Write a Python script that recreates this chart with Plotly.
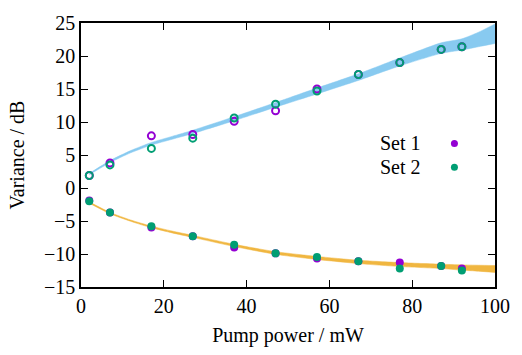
import plotly.graph_objects as go

# Measured points
pump = [2, 7, 17, 27, 37, 47, 57, 67, 77, 87, 92]
set1_anti = [1.9, 3.8, 7.9, 8.1, 10.1, 11.7, 15.0, 17.2, 19.0, 21.0, 21.4]
set2_anti = [1.9, 3.5, 6.0, 7.55, 10.6, 12.7, 14.7, 17.2, 19.0, 21.0, 21.4]
set1_sq = [-1.9, -3.7, -6.0, -7.3, -9.0, -9.9, -10.7, -11.1, -11.3, -11.8, -12.2]
set2_sq = [-2.0, -3.7, -5.8, -7.3, -8.6, -9.9, -10.45, -11.1, -12.2, -11.8, -12.5]

# Theory bands (lower / upper edges)
pump_th = [2, 7, 12, 17, 22, 27, 37, 47, 57, 67, 77, 87, 92, 96, 100]
anti_lo = [2.0, 3.85, 5.33, 6.5, 7.38, 8.25, 10.2, 12.25, 14.25, 16.3, 18.5, 20.4, 20.9, 21.4, 21.9]
anti_hi = [2.2, 4.15, 5.67, 6.9, 7.82, 8.75, 10.8, 12.95, 15.15, 17.3, 19.7, 22.0, 22.6, 23.6, 24.85]
sq_hi = [-2.1, -3.7, -4.85, -5.78, -6.52, -7.18, -8.53, -9.65, -10.37, -10.95, -11.3, -11.55, -11.65, -11.7, -11.75]
sq_lo = [-2.3, -3.9, -5.05, -6.02, -6.8, -7.48, -8.87, -10.05, -10.83, -11.45, -11.9, -12.2, -12.45, -12.6, -12.8]

xticks = [0, 20, 40, 60, 80, 100]
yticks = [-15, -10, -5, 0, 5, 10, 15, 20, 25]
ytick_text = [("−" + str(-v)) if v < 0 else str(v) for v in yticks]

PURPLE = "#9400d3"
GREEN = "#009e73"
BLUE_FILL = "#88caf0"
ORANGE_FILL = "#f0b640"
FONT = "Liberation Serif, Noto Serif, DejaVu Serif, FreeSerif, Tinos, Nimbus Roman, Times, serif"

fig = go.Figure()

def band(lo, hi, color):
    fig.add_trace(go.Scatter(x=pump_th, y=lo, mode="lines",
                             line=dict(width=0.5, color=color, shape="spline", smoothing=0.6),
                             showlegend=False, hoverinfo="skip"))
    fig.add_trace(go.Scatter(x=pump_th, y=hi, mode="lines",
                             line=dict(width=0.5, color=color, shape="spline", smoothing=0.6),
                             fill="tonexty", fillcolor=color, showlegend=False, hoverinfo="skip"))

band(anti_lo, anti_hi, BLUE_FILL)
band(sq_lo, sq_hi, ORANGE_FILL)

fig.add_trace(go.Scatter(x=pump, y=set1_anti, mode="markers", showlegend=False,
                         marker=dict(symbol="circle-open", size=7, color=PURPLE, line=dict(width=2, color=PURPLE))))
fig.add_trace(go.Scatter(x=pump, y=set1_sq, mode="markers", showlegend=False,
                         marker=dict(symbol="circle", size=8, color=PURPLE)))
fig.add_trace(go.Scatter(x=pump, y=set2_anti, mode="markers", showlegend=False,
                         marker=dict(symbol="circle-open", size=7, color=GREEN, line=dict(width=2, color=GREEN))))
fig.add_trace(go.Scatter(x=pump, y=set2_sq, mode="markers", showlegend=False,
                         marker=dict(symbol="circle", size=8, color=GREEN)))

# Legend (text left, symbol right, gnuplot style)
legend_items = [("Set 1", PURPLE, 6.75), ("Set 2", GREEN, 3.15)]
for label, col, yy in legend_items:
    fig.add_annotation(x=82.6, y=yy, xref="x", yref="y", text=label, showarrow=False,
                       xanchor="right", yanchor="middle", font=dict(family=FONT, size=20, color="black"))
    fig.add_shape(type="circle", xref="x", yref="y", xsizemode="pixel", ysizemode="pixel",
                  xanchor=90.2, yanchor=yy, x0=-3.5, x1=3.5, y0=-3.5, y1=3.5,
                  fillcolor=col, line=dict(width=0))

axis_common = dict(showline=True, linecolor="black", linewidth=1.5, mirror="allticks",
                   ticks="inside", ticklen=7, tickwidth=1.2, tickcolor="black",
                   showgrid=False, zeroline=False,
                   tickfont=dict(family=FONT, size=20, color="black"))

fig.update_xaxes(range=[0, 100], tickvals=xticks, ticktext=[str(v) for v in xticks],
                 title=dict(text="Pump power / mW", font=dict(family=FONT, size=20, color="black"), standoff=12),
                 **axis_common)
fig.update_yaxes(range=[-15, 25], tickvals=yticks, ticktext=ytick_text,
                 title=dict(text="Variance / dB", font=dict(family=FONT, size=20, color="black"), standoff=14),
                 **axis_common)

fig.update_layout(width=522, height=355, margin=dict(l=81, r=18, t=19, b=67),
                  plot_bgcolor="white", paper_bgcolor="white", showlegend=False,
                  font=dict(family=FONT, size=20, color="black"))

fig.write_html("out.html")
